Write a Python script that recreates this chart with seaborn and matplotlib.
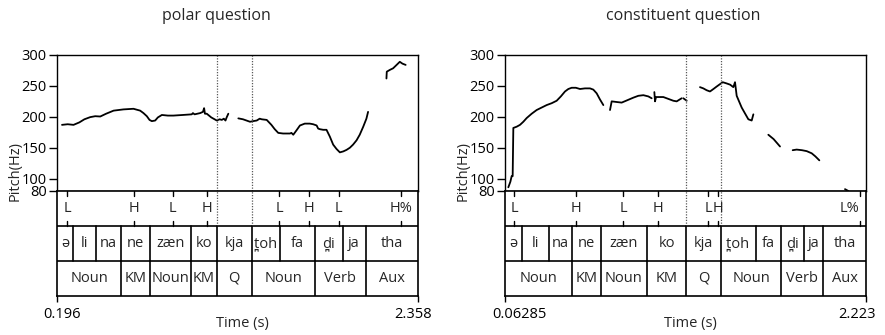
import matplotlib
matplotlib.use("Agg")
import matplotlib.pyplot as plt
import matplotlib.transforms as mtransforms
import numpy as np
import pandas as pd
import seaborn as sns

sns.set_theme(style="white")
plt.rcParams["font.family"] = ["Open Sans", "DejaVu Sans"]

# ---------------- data: polar question ----------------
polar_range = (0.196, 2.358)
polar_seg1_t = [0.226, 0.26, 0.295, 0.33, 0.36, 0.395, 0.425, 0.455, 0.49, 0.535, 0.594, 0.654,
                0.694, 0.714, 0.734, 0.75, 0.764, 0.784, 0.80, 0.824, 0.86, 0.893, 0.95, 1.003,
                1.01, 1.02, 1.053, 1.07, 1.077, 1.082, 1.093, 1.12, 1.153, 1.17, 1.183, 1.195,
                1.205, 1.212, 1.222]
polar_seg1_f = [187, 188, 187, 191, 196, 199.5, 201, 200.5, 205, 210, 212, 213,
                210, 206, 201, 195, 193, 194, 199, 203, 202, 202, 203, 204,
                206, 204, 206, 208, 214, 205, 205, 199, 194, 196, 195, 197,
                194, 199, 205]
polar_seg2_t = [1.282, 1.31, 1.352, 1.37, 1.392, 1.41, 1.422, 1.452, 1.48, 1.50, 1.521, 1.55,
                1.591, 1.60, 1.611, 1.63, 1.651, 1.68, 1.71, 1.73, 1.751, 1.76, 1.77, 1.79,
                1.81, 1.83, 1.85, 1.87, 1.89, 1.91, 1.93, 1.95, 1.969, 1.99, 2.009, 2.03,
                2.049, 2.059]
polar_seg2_f = [197.5, 196, 192, 193, 194, 197, 196, 195, 187, 180, 174, 173,
                173, 174, 171, 178, 186, 189, 189, 188, 186, 181, 180, 179,
                179, 168, 155, 148, 142.5, 144, 146.5, 150, 155, 162, 171, 184,
                197, 208]
polar_seg3_t = [2.169, 2.171, 2.19, 2.209, 2.23, 2.249, 2.265, 2.284]
polar_seg3_f = [262, 273, 276, 278.5, 284, 289, 286, 284]

polar_tone_t = [0.256, 0.658, 0.890, 1.093, 1.527, 1.706, 1.884, 2.259]
polar_tone_lab = ["L", "H", "L", "H", "L", "H", "L", "H%"]
polar_word_bounds = [0.292, 0.429, 0.582, 0.754, 1.001, 1.153, 1.362, 1.531, 1.739, 1.906, 2.045]
polar_words = ["ə", "li", "na", "ne", "zæn", "ko", "kja", "t\u032aoh", "fa", "d\u032ai", "ja", "tha"]
polar_gloss_bounds = [0.582, 0.754, 1.001, 1.153, 1.362, 1.739, 2.045]
polar_gloss = ["Noun", "KM", "Noun", "KM", "Q", "Noun", "Verb", "Aux"]
polar_dotted = [1.153, 1.362]

# ---------------- data: constituent question ----------------
const_range = (0.06285, 2.223)
const_seg1_t = [0.0828, 0.095, 0.1027, 0.1087, 0.1127, 0.1326, 0.1526, 0.1725, 0.1925, 0.2224,
                0.2523, 0.2822, 0.3122, 0.342, 0.372, 0.397, 0.4219, 0.4418, 0.4618, 0.4868,
                0.5117, 0.5416, 0.5715, 0.5914, 0.6114, 0.6313, 0.6513]
const_seg1_f = [86, 95, 104, 104, 182, 184, 187, 192, 198, 205,
                211, 215, 219, 222, 226, 233, 241, 245, 247, 247,
                245, 246, 246, 244, 238, 228, 219]
const_seg2_t = [0.6912, 0.7012, 0.73, 0.761, 0.7959, 0.8308, 0.8607, 0.8907, 0.9206, 0.9405]
const_seg2_f = [211, 225, 224, 223, 227, 231, 234, 235, 233, 230]
const_seg3_t = [0.9565, 0.9605, 0.9665, 0.99, 1.0103, 1.0502, 1.07, 1.0901, 1.12]
const_seg3_f = [240, 225, 232, 232, 232, 228, 226, 225, 230]
const_seg4_t = [1.13, 1.15]
const_seg4_f = [230, 226]
const_seg5_t = [1.2297, 1.2496, 1.2696, 1.2896, 1.31, 1.3295, 1.3654, 1.3893, 1.41, 1.4292,
                1.4392, 1.4492, 1.4791, 1.50, 1.519, 1.529, 1.539, 1.549]
const_seg5_f = [248, 246, 243, 241, 245, 249, 256, 254, 252, 248,
                256, 234, 215, 205, 196, 195, 194, 204]
const_seg6_t = [1.6386, 1.67, 1.7085]
const_seg6_f = [171, 164, 152]
const_seg7_t = [1.7843, 1.8082, 1.84, 1.8681, 1.898, 1.92, 1.9438]
const_seg7_f = [146, 147, 146, 144.5, 141, 136, 129.6]
const_seg8_t = [2.0974, 2.1174]
const_seg8_f = [83, 80]

const_tone_t = [0.117, 0.486, 0.771, 0.980, 1.279, 1.339, 2.187]
const_tone_lab = ["L", "H", "L", "H", "L", "H", "L%"]
const_word_bounds = [0.163, 0.326, 0.466, 0.636, 0.913, 1.146, 1.355, 1.563, 1.716, 1.854, 1.968]
const_words = ["ə", "li", "na", "ne", "zæn", "ko", "kja", "t\u032aoh", "fa", "d\u032ai", "ja", "tha"]
const_gloss_bounds = [0.466, 0.636, 0.913, 1.146, 1.355, 1.716, 1.968]
const_gloss = ["Noun", "KM", "Noun", "KM", "Q", "Noun", "Verb", "Aux"]
const_dotted = [1.146, 1.355]

pitch_ticks = [80, 100, 150, 200, 250, 300]


def make_df(segments):
    rows = []
    for i, (ts, fs) in enumerate(segments):
        for t, f in zip(ts, fs):
            rows.append({"time": t, "pitch": f, "seg": i})
    return pd.DataFrame(rows)


W, H = 885.0, 335.0
fig = plt.figure(figsize=(8.85, 3.35), dpi=100)
FS = 10.5


def panel(x0, title, title_x, trange, segments, tone_t, tone_lab, wb, words,
          gb, gloss, dotted, tick_offsets):
    tmin, tmax = trange
    axw = 361 / W
    ax_p = fig.add_axes([x0 / W, (H - 191) / H, axw, 136 / H])
    df = make_df(segments)
    sns.lineplot(data=df, x="time", y="pitch", units="seg", estimator=None,
                 color="black", lw=1.3, ax=ax_p, legend=False)
    ax_p.set_xlim(tmin, tmax)
    ax_p.set_ylim(80, 300)
    ax_p.set_yticks(pitch_ticks)
    ax_p.set_yticklabels([str(v) for v in pitch_ticks])
    ax_p.set_xticks([])
    ax_p.set_xlabel("")
    ax_p.set_ylabel("")
    ax_p.tick_params(axis="y", length=6, width=1, direction="out", pad=1.5,
                     labelsize=FS, colors="black", left=True)
    for s in ax_p.spines.values():
        s.set_color("black")
        s.set_linewidth(1.0)
    for t in dotted:
        ax_p.axvline(t, ls=(0, (1, 1.2)), color="0.35", lw=0.9)

    ax_t = fig.add_axes([x0 / W, (H - 296) / H, axw, 105 / H])
    ax_t.set_xlim(tmin, tmax)
    ax_t.set_ylim(0, 3)
    ax_t.set_yticks([])
    ax_t.set_facecolor("white")
    for s in ax_t.spines.values():
        s.set_color("black")
        s.set_linewidth(1.2)
    ax_t.axhline(1, color="black", lw=1.2)
    ax_t.axhline(2, color="black", lw=1.2)
    # dotted guides through tone tier
    for t in dotted:
        ax_t.plot([t, t], [2, 3], ls=(0, (1, 1.2)), color="0.35", lw=0.9)
    # tone tier
    span = tmax - tmin
    for t, lab in zip(tone_t, tone_lab):
        ax_t.plot([t, t], [3, 2.85], color="black", lw=1.0)
        ax_t.plot([t, t], [2, 2.15], color="black", lw=1.0)
        xl = min(t, tmax - 0.045 * span) if len(lab) > 1 else t
        ax_t.text(xl, 2.5, lab, ha="center", va="center", fontsize=FS)
    # word tier
    edges = [tmin] + list(wb) + [tmax]
    for b in wb:
        ax_t.plot([b, b], [1, 2], color="black", lw=1.2)
    for i, w in enumerate(words):
        ax_t.text((edges[i] + edges[i + 1]) / 2, 1.5, w, ha="center", va="center",
                  fontsize=FS)
    # gloss tier
    edges = [tmin] + list(gb) + [tmax]
    for b in gb:
        ax_t.plot([b, b], [0, 1], color="black", lw=1.2)
    for i, g in enumerate(gloss):
        ax_t.text((edges[i] + edges[i + 1]) / 2, 0.5, g, ha="center", va="center",
                  fontsize=FS)
    ax_t.set_xticks([tmin, tmax])
    ax_t.set_xticklabels([f"{tmin:g}", f"{tmax:g}"])
    ax_t.tick_params(axis="x", length=4, width=1, direction="out", pad=4,
                     labelsize=FS, colors="black", bottom=True)
    for lab, dx in zip(ax_t.get_xticklabels(), tick_offsets):
        lab.set_transform(lab.get_transform() +
                          mtransforms.ScaledTranslation(dx / 100, 0, fig.dpi_scale_trans))

    fig.text((x0 + 180.5) / W + 5 / W, 1 - 324 / H, "Time (s)", ha="center",
             va="center", fontsize=FS)
    fig.text((x0 - 42) / W, 1 - 171 / H, "Pitch(Hz)", rotation=90, ha="center",
             va="center", fontsize=FS)
    fig.text(title_x / W, 1 - 16 / H, title, ha="center", va="center", fontsize=11.5)


panel(57, "polar question", 216.5, polar_range,
      [(polar_seg1_t, polar_seg1_f), (polar_seg2_t, polar_seg2_f),
       (polar_seg3_t, polar_seg3_f)],
      polar_tone_t, polar_tone_lab, polar_word_bounds, polar_words,
      polar_gloss_bounds, polar_gloss, polar_dotted, (5, -5))

panel(505, "constituent question", 683, const_range,
      [(const_seg1_t, const_seg1_f), (const_seg2_t, const_seg2_f),
       (const_seg3_t, const_seg3_f), (const_seg4_t, const_seg4_f),
       (const_seg5_t, const_seg5_f), (const_seg6_t, const_seg6_f),
       (const_seg7_t, const_seg7_f), (const_seg8_t, const_seg8_f)],
      const_tone_t, const_tone_lab, const_word_bounds, const_words,
      const_gloss_bounds, const_gloss, const_dotted, (14, -9))

fig.savefig("out.png", dpi=100, facecolor="white")
